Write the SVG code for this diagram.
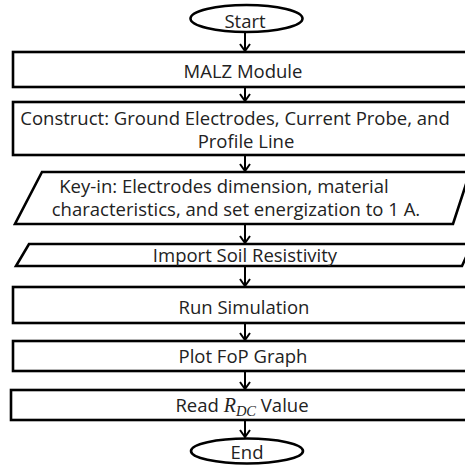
<svg xmlns="http://www.w3.org/2000/svg" width="465" height="465" viewBox="0 0 465 465">
<style>
.s{fill:#fff;stroke:#000;stroke-width:2.6}
.t{font-family:"Open Sans","Noto Sans",sans-serif;font-size:18.5px;fill:#222;text-anchor:middle}
.c{stroke:#000;stroke-width:2;fill:none}
.m{font-family:"Liberation Serif",serif;font-style:italic}
</style>
<defs>
<marker id="ah" markerUnits="userSpaceOnUse" markerWidth="12" markerHeight="12" refX="9" refY="6" orient="auto" viewBox="0 0 12 12">
<path d="M2,1 L9,6 L2,11" fill="none" stroke="#000" stroke-width="2"/>
</marker>
</defs>
<rect width="465" height="465" fill="#fff"/>
<g id="start">
<ellipse class="s" cx="246.5" cy="18.5" rx="56" ry="13.5"/>
<text class="t" x="245" y="28">Start</text>
</g>
<g id="malz">
<rect class="s" x="13" y="52" width="460" height="35"/>
<text class="t" x="243" y="78">MALZ Module</text>
</g>
<g id="construct">
<rect class="s" x="13" y="102" width="460" height="53"/>
<text class="t" x="235" y="125">Construct: Ground Electrodes, Current Probe, and</text>
<text class="t" x="246" y="148">Profile Line</text>
</g>
<g id="keyin">
<polygon class="s" points="42,172 470,172 453,224 15,224"/>
<text class="t" x="224" y="193">Key-in: Electrodes dimension, material</text>
<text class="t" x="236" y="216">characteristics, and set energization to 1 A.</text>
</g>
<g id="import">
<polygon class="s" points="29,244 472,244 462,266 16,266"/>
<text class="t" x="245" y="262">Import Soil Resistivity</text>
</g>
<g id="run">
<rect class="s" x="13" y="287" width="460" height="36"/>
<text class="t" x="244" y="314">Run Simulation</text>
</g>
<g id="plot">
<rect class="s" x="13" y="341" width="460" height="30"/>
<text class="t" x="243" y="363">Plot FoP Graph</text>
</g>
<g id="read">
<rect class="s" x="11" y="390" width="462" height="30"/>
<text class="t" x="242" y="412">Read <tspan class="m" font-size="20">R</tspan><tspan class="m" font-size="14.5" dy="4">DC</tspan><tspan dy="-4"> Value</tspan></text>
</g>
<g id="end">
<ellipse class="s" cx="247" cy="451" rx="56" ry="12.5"/>
<text class="t" x="247" y="459">End</text>
</g>
<g id="connectors">
<line class="c" x1="245" y1="32" x2="245" y2="51" marker-end="url(#ah)"/>
<line class="c" x1="245" y1="87" x2="245" y2="101" marker-end="url(#ah)"/>
<line class="c" x1="245" y1="155" x2="245" y2="171" marker-end="url(#ah)"/>
<line class="c" x1="245" y1="224" x2="245" y2="243" marker-end="url(#ah)"/>
<line class="c" x1="245" y1="266" x2="245" y2="286" marker-end="url(#ah)"/>
<line class="c" x1="245" y1="323" x2="245" y2="340" marker-end="url(#ah)"/>
<line class="c" x1="245" y1="371" x2="245" y2="389" marker-end="url(#ah)"/>
<line class="c" x1="245" y1="420" x2="245" y2="437" marker-end="url(#ah)"/>
</g>
</svg>
